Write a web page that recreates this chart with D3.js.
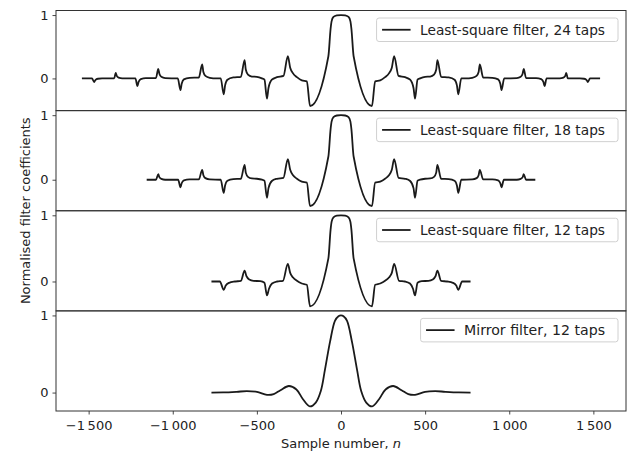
<!DOCTYPE html>
<html lang="en">
<head>
<meta charset="UTF-8">
<title>Normalised filter coefficients</title>
<style>
  body { margin: 0; background: #fff; }
  svg { display: block; }
  text { font-family: "DejaVu Sans", sans-serif; fill: #222; }
</style>
</head>
<body>
<svg id="chart" width="632" height="456"></svg>
<script src="https://cdn.jsdelivr.net/npm/d3@7"></script>
<script>
// filters are symmetric, so only the n <= 0 half is listed: [n, coefficient]
var ls24 = [
  [-1540, 0], [-1480, 0], [-1467, -0.058], [-1460, -0.025], [-1445, -0.005], [-1420, 0],
  [-1348, 0], [-1339, 0.089], [-1333, 0.04], [-1322, 0.012], [-1300, 0],
  [-1222, 0], [-1210, -0.12], [-1203, -0.055], [-1190, -0.01], [-1160, 0.005],
  [-1100, 0.005], [-1086, 0.152], [-1079, 0.07], [-1068, 0.025], [-1045, 0.005],
  [-970, 0], [-954, -0.184], [-947, -0.085], [-934, -0.015], [-900, 0.01],
  [-845, 0.015], [-825, 0.22], [-818, 0.1], [-806, 0.04], [-780, 0.01], [-740, 0],
  [-715, 0], [-697, -0.25], [-689, -0.11], [-675, -0.02], [-640, 0.015],
  [-595, 0.025], [-573, 0.29], [-566, 0.14], [-553, 0.06], [-530, 0.03], [-500, 0.025],
  [-470, 0], [-455, -0.02], [-440, -0.32], [-431, -0.15], [-411, -0.02], [-381, 0.02],
  [-342, 0.04], [-316, 0.35], [-302, 0.17], [-285, 0.08], [-262, 0.02], [-233, -0.03],
  [-203, -0.045], [-184, -0.436], [-75, 0.35], [-62, 0.78], [-56, 0.9], [-45, 0.97],
  [-25, 0.995], [0, 1]
];
var ls18 = [
  [-1155, 0], [-1100, 0], [-1086, 0.088], [-1080, 0.04], [-1068, 0.012], [-1045, 0],
  [-968, 0], [-954, -0.118], [-947, -0.055], [-934, -0.01], [-900, 0.005],
  [-845, 0.005], [-825, 0.154], [-818, 0.07], [-806, 0.025], [-780, 0.005],
  [-715, 0], [-697, -0.205], [-689, -0.09], [-675, -0.015], [-640, 0.01],
  [-595, 0.015], [-573, 0.23], [-566, 0.11], [-553, 0.045], [-530, 0.02], [-500, 0.015],
  [-470, 0], [-455, -0.015], [-440, -0.28], [-431, -0.13], [-411, -0.02], [-381, 0.015],
  [-342, 0.03], [-316, 0.32], [-302, 0.155], [-285, 0.07], [-262, 0.015], [-233, -0.03],
  [-203, -0.045], [-184, -0.41], [-75, 0.36], [-62, 0.78], [-56, 0.9], [-45, 0.97],
  [-25, 0.995], [0, 1]
];
var ls12 = [
  [-770, 0], [-720, 0], [-697, -0.125], [-685, -0.06], [-665, -0.02], [-630, 0],
  [-595, 0.01], [-573, 0.165], [-562, 0.08], [-545, 0.03], [-520, 0.01], [-480, 0.005],
  [-455, -0.02], [-440, -0.21], [-428, -0.11], [-410, -0.03], [-380, 0], [-345, 0.01],
  [-316, 0.265], [-302, 0.13], [-285, 0.06], [-262, 0.01], [-233, -0.03], [-203, -0.05],
  [-184, -0.375], [-75, 0.35], [-62, 0.78], [-56, 0.9], [-45, 0.97], [-25, 0.995], [0, 1]
];
var mirror12 = [
  [-770, 0], [-700, 0.002], [-620, 0.01], [-560, 0.018], [-500, 0.01], [-440, -0.03],
  [-400, -0.02], [-360, 0.03], [-310, 0.085], [-265, 0.04], [-225, -0.09], [-185, -0.18],
  [-150, -0.13], [-120, 0.02], [-95, 0.3], [-65, 0.66], [-36, 0.93], [-15, 0.99], [0, 1]
];
var legendLabels = ["Least-square filter, 24 taps", "Least-square filter, 18 taps",
                    "Least-square filter, 12 taps", "Mirror filter, 12 taps"];
var xTicks = [-1500, -1000, -500, 0, 500, 1000, 1500];
var yTicks = [0, 1];

function mirror(half) {
  return half.concat(half.slice(0, -1).reverse().map(d => [-d[0], d[1]]));
}

var panels = [
  { data: mirror(ls24), label: legendLabels[0], smooth: false, legendFont: "Lato", legendW: 185 },
  { data: mirror(ls18), label: legendLabels[1], smooth: false, legendFont: "Lato", legendW: 185 },
  { data: mirror(ls12), label: legendLabels[2], smooth: false, legendFont: "Lato", legendW: 185 },
  { data: mirror(mirror12), label: legendLabels[3], smooth: true, legendFont: "DejaVu Sans", legendW: 141 }
];

var plotLeft = 56, plotRight = 626, plotTop = 10.5, plotBottom = 411;
var panelH = (plotBottom - plotTop) / panels.length;
var svg = d3.select("#chart");

// matplotlib-style 5% margins
function padded(ext) {
  var p = (ext[1] - ext[0]) * 0.05;
  return [ext[0] - p, ext[1] + p];
}

var allN = [].concat(...panels.map(p => p.data.map(d => d[0])));
var x = d3.scaleLinear().domain(padded(d3.extent(allN))).range([plotLeft, plotRight]);

var fmt = d => d3.format(",")(d).replace(/,/g, "\u2009");

panels.forEach(function(p, i) {
  var g = svg.append("g").attr("transform", "translate(0," + (plotTop + i * panelH) + ")");
  var y = d3.scaleLinear().domain(padded(d3.extent(p.data, d => d[1]))).range([panelH, 0]);

  var line = d3.line()
    .x(d => x(d[0]))
    .y(d => y(d[1]))
    .curve(p.smooth ? d3.curveCatmullRom.alpha(0.5) : d3.curveMonotoneX);

  g.append("path")
    .datum(p.data)
    .attr("d", line)
    .attr("fill", "none")
    .attr("stroke", "#1a1a1a")
    .attr("stroke-width", 1.8)
    .attr("stroke-linejoin", "round");

  // y ticks
  var yAxis = g.append("g").attr("transform", "translate(" + plotLeft + ",0)")
    .call(d3.axisLeft(y).tickValues(yTicks).tickSize(3.5).tickPadding(4).tickFormat(d3.format("d")));
  yAxis.select(".domain").remove();
  yAxis.selectAll("line").attr("stroke", "#333").attr("stroke-width", 0.9);
  yAxis.selectAll("text").attr("font-size", 13).attr("font-family", "DejaVu Sans").attr("fill", "#222");

  // frame
  g.append("rect")
    .attr("x", plotLeft).attr("y", 0)
    .attr("width", plotRight - plotLeft).attr("height", panelH)
    .attr("fill", "none").attr("stroke", "#333").attr("stroke-width", 1);

  // legend
  var lg = g.append("g");
  var box = lg.append("rect")
    .attr("rx", 2.5).attr("ry", 2.5)
    .attr("fill", "#fff").attr("fill-opacity", 0.8)
    .attr("stroke", "#d0d0d0").attr("stroke-width", 1);
  var txt = lg.append("text")
    .attr("font-family", p.legendFont)
    .attr("font-size", 14)
    .text(p.label);
  var fs = 14 * p.legendW / txt.node().getComputedTextLength();
  txt.attr("font-size", fs);
  var tw = txt.node().getComputedTextLength();
  var boxH = 23.5, boxTop = 7.5;
  var boxW = 5.5 + 28.5 + 9.5 + tw + 13;
  var bx = plotRight - 8 - boxW;
  box.attr("x", bx).attr("y", boxTop).attr("width", boxW).attr("height", boxH);
  lg.append("line")
    .attr("x1", bx + 5.5).attr("x2", bx + 34)
    .attr("y1", boxTop + boxH / 2).attr("y2", boxTop + boxH / 2)
    .attr("stroke", "#1a1a1a").attr("stroke-width", 1.8);
  txt.attr("x", bx + 43.5).attr("y", boxTop + boxH / 2).attr("dy", "0.35em");

  if (i === panels.length - 1) {
    var xAxis = g.append("g").attr("transform", "translate(0," + panelH + ")")
      .call(d3.axisBottom(x).tickValues(xTicks).tickSize(3.5).tickPadding(6.5).tickFormat(fmt));
    xAxis.select(".domain").remove();
    xAxis.selectAll("line").attr("stroke", "#333").attr("stroke-width", 0.9);
    xAxis.selectAll("text").attr("font-size", 13).attr("font-family", "DejaVu Sans").attr("fill", "#222");
  }
});

var xl = svg.append("text")
  .attr("x", (plotLeft + plotRight) / 2).attr("y", 448)
  .attr("text-anchor", "middle").attr("font-size", 13);
xl.append("tspan").text("Sample number, ");
xl.append("tspan").attr("font-style", "italic").text("n");

svg.append("text")
  .attr("transform", "translate(25," + ((plotTop + plotBottom) / 2) + ") rotate(-90)")
  .attr("text-anchor", "middle").attr("font-size", 13)
  .attr("dy", "0.35em")
  .text("Normalised filter coefficients");
</script>
</body>
</html>
